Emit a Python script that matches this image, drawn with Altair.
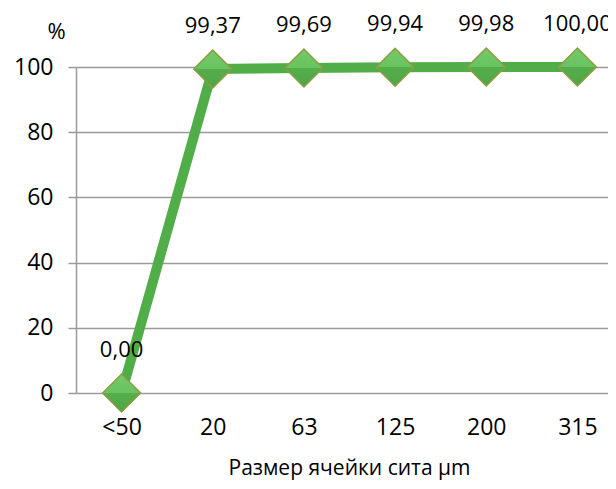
import altair as alt
import pandas as pd

categories = ["<50", "20", "63", "125", "200", "315"]
values = [0.00, 99.37, 99.69, 99.94, 99.98, 100.00]
labels = ["0,00", "99,37", "99,69", "99,94", "99,98", "100,00"]

df = pd.DataFrame({"cat": categories, "val": values, "lab": labels})

FONT = "Open Sans"

x = alt.X("cat:N", sort=categories,
          scale=alt.Scale(paddingInner=0, paddingOuter=0, range=[0, 547]),
          axis=alt.Axis(title="Размер ячейки сита µm", labelAngle=0, domain=False, ticks=False,
                        grid=False, labelFontSize=23, labelPadding=23, labelColor="#000",
                        titleFontSize=21, titleFontWeight="normal", titlePadding=18,
                        titleColor="#000", labelFont=FONT, titleFont=FONT, titleX=273))
y = alt.Y("val:Q", scale=alt.Scale(domain=[0, 100], nice=False),
          axis=alt.Axis(title="%", titleAngle=0, titleX=-20, titleY=-36, titleFontSize=22,
                        titleFontWeight="normal", titleColor="#000", titleFont=FONT,
                        titleAlign="center", titleBaseline="middle",
                        values=[0, 20, 40, 60, 80, 100], labelFontSize=23, labelFont=FONT,
                        labelColor="#000", labelPadding=15, tickSize=8, tickColor="#9a9a9a",
                        tickWidth=1.5, domainColor="#9a9a9a", domainWidth=1.5,
                        gridColor="#9a9a9a", gridWidth=1.5))

base = alt.Chart(df).encode(x=x, y=y)

line = base.mark_line(color="#50ad47", strokeWidth=10)
grad = alt.Gradient(
    gradient="linear", x1=0, y1=0, x2=0, y2=1,
    stops=[alt.GradientStop(color="#74ca6a", offset=0),
           alt.GradientStop(color="#68c35e", offset=0.5),
           alt.GradientStop(color="#56ad4c", offset=0.5),
           alt.GradientStop(color="#4fa646", offset=1)],
)
pts = base.mark_point(shape="diamond", size=1440, filled=True, fill=grad,
                      stroke="#8e9c42", strokeWidth=1.5, opacity=1)
txt = base.mark_text(dy=-43, fontSize=22, font=FONT, color="#000", baseline="middle").encode(text="lab:N")

chart = (line + pts + txt).properties(
    width=532, height=326,
    autosize=alt.AutoSizeParams(type="none"),
    padding={"left": 68, "top": 59, "right": 0, "bottom": 88},
).configure_view(stroke=None)

chart.save("out.html", embed_options={"renderer": "svg", "actions": False})
